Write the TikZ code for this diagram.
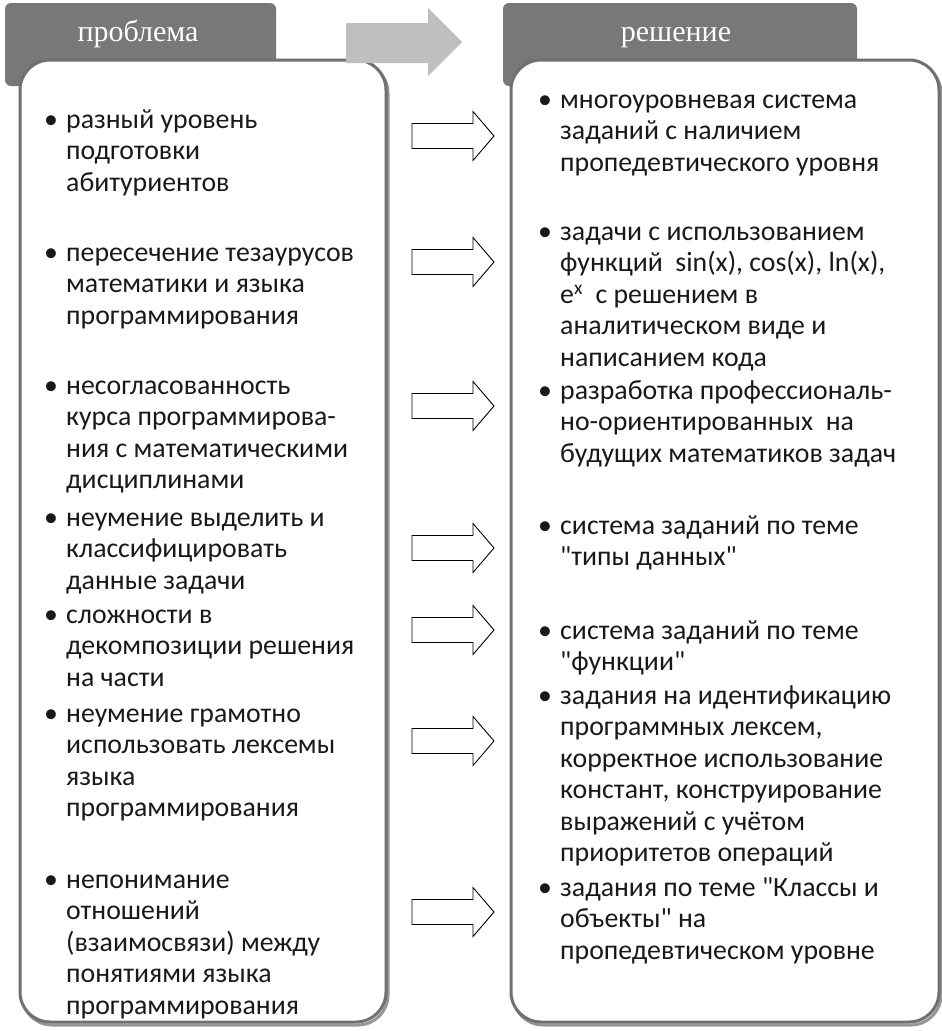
\documentclass[tikz,border=0pt]{standalone}
\usepackage{fontspec}
\setmainfont{Carlito}
\newfontfamily\headfont{Liberation Serif}
\definecolor{tabgray}{RGB}{120,120,120}
\definecolor{framegray}{RGB}{112,112,112}
\definecolor{shadowgray}{RGB}{150,150,150}
\definecolor{bigarrow}{RGB}{191,191,191}
\definecolor{txt}{RGB}{25,25,25}
\begin{document}
\begin{tikzpicture}[x=1pt,y=-1pt,
  tab/.style={fill=tabgray,rounded corners=6pt},
  panel/.style={fill=white,draw=framegray,line width=3pt,rounded corners=30pt},
  panelshadow/.style={draw=shadowgray,line width=3pt,rounded corners=30pt},
  headtext/.style={anchor=base,text=white,font=\headfont\fontsize{30}{34}\selectfont,inner sep=0},
  itemtext/.style={anchor=north west,inner sep=0,align=left,text=txt,font=\fontsize{27.8}{31.5}\selectfont},
  bulletmark/.style={anchor=north west,inner sep=0,text=txt,font=\fontsize{27.8}{31.5}\selectfont},
  outarrow/.style={draw=black,line width=0.9pt,fill=white,line join=miter}
]
\useasboundingbox (0,0) rectangle (942,1031);
% header tabs
\fill[tab] (5,3) rectangle (276,86);
\fill[tab] (503,3) rectangle (857,86);
% panels
\draw[panelshadow] (22,63) rectangle (388,1025);
\draw[panelshadow] (513,63) rectangle (941,1025);
\draw[panel] (20,60) rectangle (386,1022);
\draw[panel] (511,60) rectangle (939,1022);
% header texts
\node[headtext] (hL) at (138,41) {проблема};
\node[headtext] (hR) at (676,41) {решение};
% big arrow
\fill[bigarrow] (346,23) -- (428,23) -- (428,8) -- (462,42) -- (428,76) -- (428,63) -- (346,63) -- cycle;
% small outline arrows
\foreach \yy [count=\i] in {136,262,406,548,630,741,912}{
  \draw[outarrow] (412,\yy-12.5) -- (473,\yy-12.5) -- (473,\yy-24.5) -- (494,\yy) -- (473,\yy+24.5) -- (473,\yy+12.5) -- (412,\yy+12.5) -- cycle;
}
% left items
\node[bulletmark] (lb1) at (44,106) {\strut•};
\node[itemtext] (l1) at (66,106) {\strut разный уровень\\подготовки\\абитуриентов};
\node[bulletmark] (lb2) at (44,239) {\strut•};
\node[itemtext] (l2) at (66,239) {\strut пересечение тезаурусов\\математики и языка\\программирования};
\node[bulletmark] (lb3) at (44,372) {\strut•};
\node[itemtext] (l3) at (66,372) {\strut несогласованность\\курса программирова-\\ния с математическими\\дисциплинами};
\node[bulletmark] (lb4) at (44,504) {\strut•};
\node[itemtext] (l4) at (66,504) {\strut неумение выделить и\\классифицировать\\данные задачи};
\node[bulletmark] (lb5) at (44,601) {\strut•};
\node[itemtext] (l5) at (66,601) {\strut сложности в\\декомпозиции решения\\на части};
\node[bulletmark] (lb6) at (44,700) {\strut•};
\node[itemtext] (l6) at (66,700) {\strut неумение грамотно\\использовать лексемы\\языка\\программирования};
\node[bulletmark] (lb7) at (44,866) {\strut•};
\node[itemtext] (l7) at (66,866) {\strut непонимание\\отношений\\(взаимосвязи) между\\понятиями языка\\программирования};
% right items
\node[bulletmark] (rb1) at (538,86) {\strut•};
\node[itemtext] (r1) at (560,86) {\strut многоуровневая система\\заданий с наличием\\пропедевтического уровня};
\node[bulletmark] (rb2) at (538,218) {\strut•};
\node[itemtext] (r2) at (560,218) {\strut задачи с использованием\\функций\ \ sin(x), cos(x), ln(x),\\e\textsuperscript{x}\ \ с решением в\\аналитическом виде и\\написанием кода};
\node[bulletmark] (rb3) at (538,377) {\strut•};
\node[itemtext] (r3) at (560,377) {\strut разработка профессиональ-\\но-ориентированных\ \ на\\будущих математиков задач};
\node[bulletmark] (rb4) at (538,512) {\strut•};
\node[itemtext] (r4) at (560,512) {\strut система заданий по теме\\\textquotedbl типы данных\textquotedbl};
\node[bulletmark] (rb5) at (538,617) {\strut•};
\node[itemtext] (r5) at (560,617) {\strut система заданий по теме\\\textquotedbl функции\textquotedbl};
\node[bulletmark] (rb6) at (538,682) {\strut•};
\node[itemtext] (r6) at (560,682) {\strut задания на идентификацию\\программных лексем,\\корректное использование\\констант, конструирование\\выражений с учётом\\приоритетов операций};
\node[bulletmark] (rb7) at (538,874) {\strut•};
\node[itemtext] (r7) at (560,874) {\strut задания по теме \textquotedbl Классы и\\объекты\textquotedbl{} на\\пропедевтическом уровне};
\end{tikzpicture}
\end{document}
